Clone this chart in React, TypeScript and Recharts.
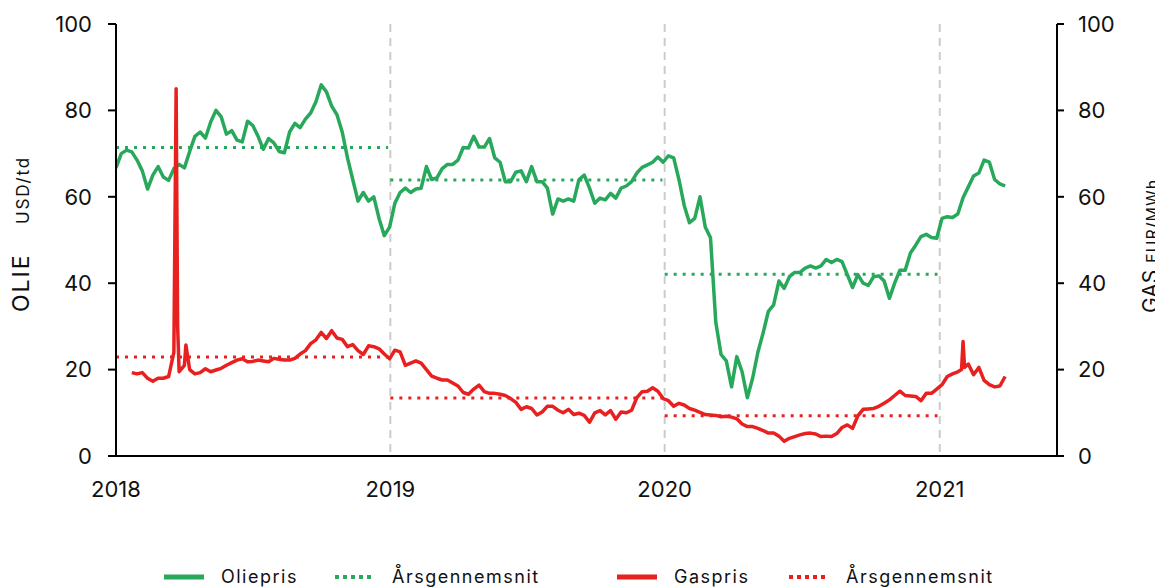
import { LineChart, Line, XAxis, YAxis, CartesianGrid, ReferenceLine } from "recharts";

// x is days since 1 Jan 2018, one point per week
const yearStarts = [0, 365, 730, 1096];
const yearLabels = ["2018", "2019", "2020", "2021"];
const valueTicks = [0, 20, 40, 60, 80, 100];

const oilAvg = [71.4, 63.9, 42.1];
const gasAvg = [22.9, 13.4, 9.3];

const oilWeekly = [
  // 2018
  66.7, 70, 70.8, 70.4, 68.5, 66, 61.8, 65, 67, 64.6,
  63.8, 66.5, 67.5, 66.7, 70.5, 74, 75, 73.6, 77.3, 80,
  78.5, 74.5, 75.3, 73.1, 72.7, 77.5, 76.5, 74, 71, 73.5,
  72.5, 70.5, 70.2, 75, 77, 76, 78, 79.4, 82, 85.9,
  84.3, 81, 79, 75, 69, 64, 59, 61, 59, 60,
  55, 51,
  // 2019
  53, 58.5, 61, 62, 61, 61.8, 62, 67, 64, 64.4,
  66.5, 67.5, 67.5, 68.5, 71.4, 71.3, 74, 71.5, 71.5, 73.5,
  69, 68, 63.5, 63.5, 65.7, 66, 63.5, 67, 63.5, 63.5,
  62, 56, 59.5, 59, 59.5, 59, 64, 65, 62, 58.5,
  59.7, 59.3, 60.8, 59.7, 62, 62.5, 63.5, 65.5, 66.8, 67.4,
  68, 69.2,
  // 2020 - 2021
  68, 69.5, 69, 64, 58, 54, 55, 60, 53, 50.5,
  31, 23.5, 22, 16, 23, 19.5, 13.5, 18, 24, 28.5,
  33.5, 35, 40.5, 38.8, 41.5, 42.5, 42.5, 43.5, 44, 43.5,
  44, 45.5, 44.8, 45.5, 45, 42, 39, 42, 40, 39.5,
  41.5, 41.7, 40.5, 36.5, 40, 43, 43, 47, 48.8, 50.8,
  51.3, 50.6, 50.4, 55, 55.4, 55.2, 56, 59.8, 62.3, 64.8,
  65.5, 68.5, 68, 64, 63, 62.5,
];

const gasWeekly = [
  // 2018
  null, null, null, 19.3, 19, 19.3, 18, 17.3, 18, 18,
  18.4, 24, 19.5, 21, 20, 19, 19.3, 20.2, 19.5, 19.9,
  20.3, 21, 21.6, 22.2, 22.5, 21.8, 21.9, 22.2, 22, 21.8,
  22.6, 22.4, 22.2, 22.2, 22.6, 23.6, 24.4, 26, 26.9, 28.6,
  27.2, 29, 27.3, 27, 25.3, 25.8, 24.4, 23.5, 25.5, 25.3,
  24.8, 23.6,
  // 2019
  22.5, 24.5, 24.1, 21, 21.5, 22, 21.5, 20, 18.5, 18,
  17.6, 17.6, 16.9, 16.2, 14.7, 14.3, 15.5, 16.4, 14.9, 14.5,
  14.5, 14.3, 14, 13.3, 12.4, 10.8, 11.4, 11, 9.5, 10.2,
  11.5, 11.5, 10.6, 10, 10.8, 9.6, 9.9, 9.4, 7.8, 10,
  10.5, 9.5, 10.5, 8.5, 10.2, 10, 10.6, 13.5, 14.9, 15,
  15.8, 15,
  // 2020 - 2021
  13.3, 12.8, 11.5, 12.2, 11.8, 11, 10.6, 10.1, 9.6, 9.5,
  9.4, 9.1, 9.2, 9, 8.6, 7.4, 6.8, 6.8, 6.4, 5.9,
  5.3, 5.3, 4.6, 3.4, 4.1, 4.5, 4.9, 5.2, 5.3, 5.1,
  4.5, 4.6, 4.5, 5.2, 6.6, 7.2, 6.4, 9.3, 10.8, 10.9,
  11, 11.5, 12.2, 13, 14, 15, 14, 13.9, 13.8, 12.8,
  14.5, 14.5, 15.5, 16.5, 18.4, 19, 19.5, 26.5, 21.3, 18.8,
  20.5, 17.5, 16.5, 16, 16.2, 18.4,
];

// short gas spikes that fall between weekly points
const gasExtraDays = [80, 82, 93, 1125, 1129];
const gasExtraValues = [85, 30, 25.7, 20, 20.5];

type Row = { day: number; oil?: number | null; gas?: number | null };

const rows: Row[] = [
  ...oilWeekly.map((v, i) => ({ day: i * 7, oil: v, gas: gasWeekly[i] })),
  ...gasExtraDays.map((d, i) => ({ day: d, gas: gasExtraValues[i] })),
].sort((a, b) => a.day - b.day);

const GREEN = "#27a85b";
const RED = "#e8201f";
const FONT = "Inter, 'Noto Sans', sans-serif";

const tickStyle = { fontSize: 22, fill: "#111", fontFamily: FONT };

function LegendMark({ color, dotted }: { color: string; dotted?: boolean }) {
  return (
    <svg width={40} height={10} style={{ marginRight: 17 }}>
      <line
        x1={0}
        y1={5}
        x2={40}
        y2={5}
        stroke={color}
        strokeWidth={dotted ? 4 : 5}
        strokeDasharray={dotted ? "4 4" : undefined}
      />
    </svg>
  );
}

const legendItems = [
  { label: "Oliepris", color: GREEN, dotted: false, left: 156 },
  { label: "Årsgennemsnit", color: GREEN, dotted: true, left: 327 },
  { label: "Gaspris", color: RED, dotted: false, left: 609 },
  { label: "Årsgennemsnit", color: RED, dotted: true, left: 781 },
];

export default function App() {
  return (
    <div style={{ position: "relative", width: 1147, height: 580, fontFamily: FONT }}>
      <LineChart
        width={1147}
        height={500}
        data={rows}
        margin={{ top: 16, right: 0, bottom: 0, left: 0 }}
      >
        <CartesianGrid
          horizontal={false}
          stroke="#cccccc"
          strokeWidth={2}
          strokeDasharray="8 6"
        />
        <XAxis
          dataKey="day"
          type="number"
          domain={[0, 1252]}
          ticks={yearStarts}
          tickFormatter={(d: number) => yearLabels[yearStarts.indexOf(d)]}
          height={52}
          tickLine={false}
          tickSize={0}
          tickMargin={25}
          axisLine={{ stroke: "#000", strokeWidth: 2 }}
          tick={tickStyle}
          allowDataOverflow
        />
        <YAxis
          yAxisId="left"
          orientation="left"
          width={108}
          domain={[0, 100]}
          ticks={valueTicks}
          tickSize={8}
          tickMargin={16}
          axisLine={{ stroke: "#000", strokeWidth: 2 }}
          tickLine={{ stroke: "#000", strokeWidth: 2 }}
          tick={tickStyle}
        />
        <YAxis
          yAxisId="right"
          orientation="right"
          width={98}
          domain={[0, 100]}
          ticks={valueTicks}
          tickSize={7}
          tickMargin={14}
          axisLine={{ stroke: "#000", strokeWidth: 2 }}
          tickLine={{ stroke: "#000", strokeWidth: 2 }}
          tick={tickStyle}
        />
        {oilAvg.map((v, i) => (
          <ReferenceLine
            key={"oa" + i}
            yAxisId="left"
            segment={[
              { x: yearStarts[i], y: v },
              { x: yearStarts[i + 1] - 3, y: v },
            ]}
            stroke={GREEN}
            strokeWidth={3}
            strokeDasharray="3 6"
          />
        ))}
        {gasAvg.map((v, i) => (
          <ReferenceLine
            key={"ga" + i}
            yAxisId="right"
            segment={[
              { x: yearStarts[i], y: v },
              { x: yearStarts[i + 1] - 3, y: v },
            ]}
            stroke={RED}
            strokeWidth={3}
            strokeDasharray="3 6"
          />
        ))}
        <Line
          yAxisId="left"
          dataKey="oil"
          type="linear"
          stroke={GREEN}
          strokeWidth={3.5}
          strokeLinejoin="round"
          dot={false}
          activeDot={false}
          connectNulls
          isAnimationActive={false}
        />
        <Line
          yAxisId="right"
          dataKey="gas"
          type="linear"
          stroke={RED}
          strokeWidth={3.5}
          strokeLinejoin="round"
          dot={false}
          activeDot={false}
          connectNulls
          isAnimationActive={false}
        />
      </LineChart>

      <svg
        width={1155}
        height={580}
        style={{ position: "absolute", left: 0, top: 0, pointerEvents: "none", overflow: "visible" }}
      >
        <text
          transform="translate(21,304) rotate(-90)"
          fontSize={23}
          letterSpacing={2}
          fill="#111"
          fontFamily={FONT}
        >
          OLIE
        </text>
        <text
          transform="translate(21,216) rotate(-90)"
          fontSize={17}
          letterSpacing={1.8}
          fill="#111"
          fontFamily={FONT}
        >
          USD/td
        </text>
        <text
          transform="translate(1150,305) rotate(-90)"
          fontSize={21}
          fill="#111"
          fontFamily={FONT}
        >
          GAS
        </text>
        <text
          transform="translate(1150,255) rotate(-90)"
          fontSize={16}
          letterSpacing={1}
          fill="#111"
          fontFamily={FONT}
        >
          EUR/MWh
        </text>
      </svg>

      {legendItems.map((it, i) => (
        <div
          key={i}
          style={{
            position: "absolute",
            left: it.left,
            top: 558,
            display: "flex",
            alignItems: "center",
            fontSize: 18,
            letterSpacing: 1.5,
            color: "#111",
            whiteSpace: "nowrap",
          }}
        >
          <LegendMark color={it.color} dotted={it.dotted} />
          {it.label}
        </div>
      ))}
    </div>
  );
}
